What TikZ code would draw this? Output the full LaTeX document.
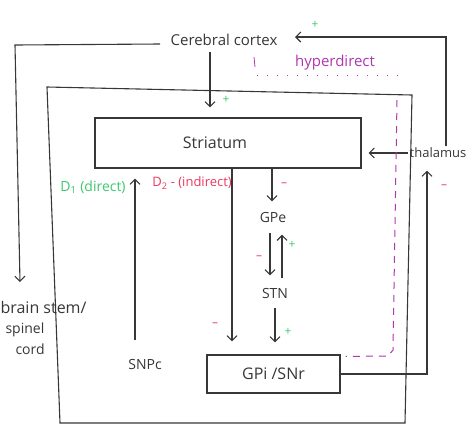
\documentclass[tikz,border=0pt]{standalone}
\usepackage{fontspec}
\setmainfont{Open Sans}
\usetikzlibrary{arrows.meta,calc}
\definecolor{ink}{RGB}{55,55,55}
\definecolor{grn}{RGB}{60,200,110}
\definecolor{rd}{RGB}{235,55,95}
\definecolor{purp}{RGB}{175,55,175}
\newcommand{\fsz}[1]{\fontsize{#1}{#1}\selectfont}
\begin{document}
\begin{tikzpicture}[x=1pt,y=-1pt,color=ink,line width=1.1pt,
  arr/.style={-{Straight Barb[length=5pt,width=10pt]}},
  lbl/.style={font=\fsz{13}, inner sep=1pt},
  boxn/.style={draw},
  pls/.style={text=grn, font=\fsz{12}, inner sep=0pt},
  mns/.style={text=rd, font=\fsz{12}, inner sep=0pt},
  hypline/.style={draw=purp, line width=1pt}]
\useasboundingbox (0,0) rectangle (474,432);
% x/y helper coordinates
\coordinate (X135) at (135,0);
\coordinate (X210) at (210,0);
\coordinate (X232) at (232,0);
\coordinate (X270) at (270,0);
\coordinate (X272) at (272,0);
\coordinate (X275) at (275,0);
\coordinate (X282) at (282,0);
\coordinate (X427) at (427,0);
\coordinate (tc) at (446,37);
\coordinate (ctip) at (295,37);
\coordinate (cleft) at (160,44);
\coordinate (lc) at (15,45);
\coordinate (bstip) at (20,282);
% nodes
\node[lbl, font=\fsz{15}] (cortex) at (224,40) {Cerebral cortex};
\node[lbl, font=\fsz{15}, text=purp] (hyp) at (335,63) {hyperdirect};
\node[boxn, minimum width=266pt, minimum height=50pt] (str) at (228,143) {};
\node[lbl, font=\fsz{16}] (strtxt) at (215,143) {Striatum};
\node[lbl] (thal) at (438,153) {thalamus};
\node[lbl, font=\fsz{14}, text=grn] (d1) at (93,187) {D\textsubscript{1} (direct)};
\node[lbl, text=rd] (d2) at (192,183) {D\textsubscript{2} - (indirect)};
\node[lbl, font=\fsz{14}] (gpe) at (273,217) {GPe};
\node[lbl, font=\fsz{14}] (stn) at (275,293) {STN};
\node[boxn, lbl, font=\fsz{16}, minimum width=133pt, minimum height=38pt] (gpi) at (273.5,374) {GPi /SNr};
\node[lbl, font=\fsz{14}] (snpc) at (145,364) {SNPc};
\node[lbl, font=\fsz{16}, anchor=west] (bs1) at (-1,307) {brain stem/};
\node[lbl, font=\fsz{14}, anchor=west] (bs2) at (4,330) {spinel};
\node[lbl, font=\fsz{14}, anchor=west] (bs3) at (14,349) {cord};
% outer frame
\draw (47,87) -- (412,95) -- (405,423) -- (60,423) -- cycle;
% connectors
\draw[arr] (cleft) -- (lc) -- (bstip);
\draw[arr, shorten <=5pt, shorten >=10pt] (cortex.south -| X210) -- (str.north -| X210);
\draw[arr, shorten >=7pt] (thal.west) -- (str.east |- thal.west);
\draw[arr] (thal.north -| tc) -- (tc) -- (ctip);
\draw[arr, shorten >=11pt] (gpi.east) -- (gpi.east -| X427) -- (thal.south -| X427);
\draw[arr, shorten <=17pt, shorten >=10pt] (snpc.north -| X135) -- (str.south -| X135);
\draw[arr, shorten >=13pt] (str.south -| X232) -- (gpi.north -| X232);
\draw[arr, shorten >=9pt] (str.south -| X272) -- (gpe.north -| X272);
\draw[arr, shorten <=9pt, shorten >=11pt] (gpe.south -| X270) -- (stn.north -| X270);
\draw[arr, shorten <=8pt, shorten >=11pt] (stn.north -| X282) -- (gpe.south -| X282);
\draw[arr, shorten <=8pt, shorten >=12pt] (stn.south -| X275) -- (gpi.north -| X275);
% hyperdirect
\draw[hypline, line width=0.8pt] (254,57) -- (255,67);
\draw[hypline, dash pattern=on 1pt off 9pt] (257,75) -- (398,75);
\draw[hypline, dash pattern=on 7pt off 6pt] (397,100) -- (393,350) -- (388,356) -- ($(gpi.north east)+(5,2)$);
% signs
\node[pls] (p1) at (315,25) {+};
\node[pls] (p2) at (226,100) {+};
\node[pls] (p3) at (292,245) {+};
\node[pls] (p4) at (288,332) {+};
\node[mns] (m1) at (444,187) {--};
\node[mns] (m2) at (284,185) {--};
\node[mns] (m3) at (259,258) {--};
\node[mns] (m4) at (215,325) {--};
\end{tikzpicture}
\end{document}
